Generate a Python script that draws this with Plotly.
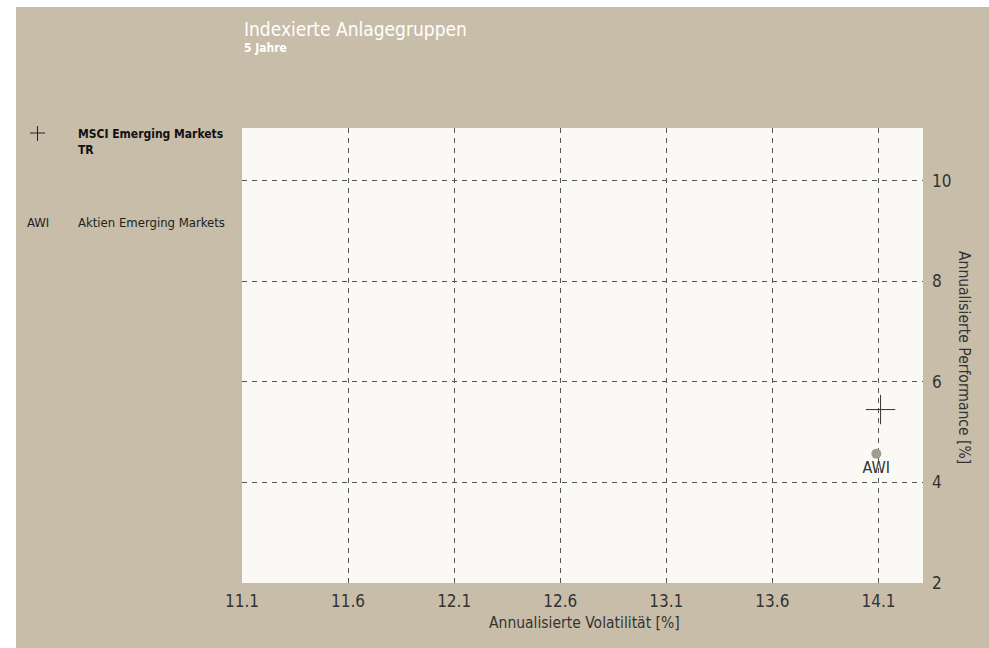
import plotly.graph_objects as go

# data
names = ['MSCI Emerging Markets TR', 'AWI']
volatility = [14.11, 14.09]
performance = [5.45, 4.57]
x_ticks = [11.1, 11.6, 12.1, 12.6, 13.1, 13.6, 14.1]
y_ticks = [2, 4, 6, 8, 10]

FONT = 'DejaVu Sans Condensed, Liberation Sans Narrow, sans-serif'
BEIGE = '#c8bda8'
PLOTBG = '#faf9f6'

W, H = 989, 648
L, R, T, B = 242, 66, 128, 65
PW, PH = W - L - R, H - T - B


# pixel -> paper helpers for things outside the plot area
def xp(px):
    return (px - L) / PW


def yp(py):
    return (H - B - py) / PH


fig = go.Figure()

# index (cross)
fig.add_trace(go.Scatter(
    x=[volatility[0]], y=[performance[0]], mode='markers',
    marker=dict(symbol='cross-thin', size=21, line=dict(width=1, color='#333333')),
    name=names[0], hoverinfo='x+y+name'
))
# AWI dot with label
fig.add_trace(go.Scatter(
    x=[volatility[1]], y=[performance[1]], mode='markers+text',
    marker=dict(size=10, color='#a39b8b'),
    text=[names[1]], textposition='bottom center',
    textfont=dict(family=FONT, size=16, color='#333333'),
    name=names[1], hoverinfo='x+y+name'
))

shapes = [
    # white strips on the left and top
    dict(type='rect', xref='paper', yref='paper', x0=xp(0), x1=xp(16),
         y0=yp(H), y1=yp(0), fillcolor='white', line_width=0, layer='below'),
    dict(type='rect', xref='paper', yref='paper', x0=xp(0), x1=xp(W),
         y0=yp(7), y1=yp(0), fillcolor='white', line_width=0, layer='below'),
    dict(type='rect', xref='paper', yref='paper', x0=0, x1=1, y0=0, y1=1,
         fillcolor=PLOTBG, line_width=0, layer='below'),
    # legend cross
    dict(type='line', xref='paper', yref='paper', x0=xp(30), x1=xp(45), y0=yp(133), y1=yp(133),
         line=dict(color='#222222', width=1)),
    dict(type='line', xref='paper', yref='paper', x0=xp(37.5), x1=xp(37.5), y0=yp(126), y1=yp(141),
         line=dict(color='#222222', width=1)),
]

annotations = [
    dict(text='Indexierte Anlagegruppen', x=xp(242), y=yp(29), xanchor='left', yanchor='middle',
         font=dict(family=FONT, size=19, color='white')),
    dict(text='<b>5 Jahre</b>', x=xp(242), y=yp(48), xanchor='left', yanchor='middle',
         font=dict(family=FONT, size=12, color='white')),
    dict(text='<b>MSCI Emerging Markets</b><br><b>TR</b>', x=xp(76), y=yp(125), xanchor='left',
         yanchor='top', align='left', font=dict(family=FONT, size=12, color='#111111')),
    dict(text='AWI', x=xp(25), y=yp(222), xanchor='left', yanchor='middle',
         font=dict(family=FONT, size=13, color='#222222')),
    dict(text='Aktien Emerging Markets', x=xp(76), y=yp(222), xanchor='left', yanchor='middle',
         font=dict(family=FONT, size=13, color='#222222')),
    dict(text='Annualisierte Volatilität [%]', x=xp(584), y=yp(623),
         xanchor='center', yanchor='middle', font=dict(family=FONT, size=15.5, color='#333333')),
    dict(text='Annualisierte Performance [%]', x=xp(964), y=yp(357), textangle=90,
         xanchor='center', yanchor='middle', font=dict(family=FONT, size=15.5, color='#333333')),
]
for a in annotations:
    a.update(xref='paper', yref='paper', showarrow=False)

fig.update_layout(
    width=W, height=H,
    margin=dict(l=L, r=R, t=T, b=B, pad=0),
    paper_bgcolor=BEIGE, plot_bgcolor=PLOTBG,
    font=dict(family=FONT, size=17, color='#333333'),
    showlegend=False,
    shapes=shapes, annotations=annotations,
    xaxis=dict(
        range=[11.1, 14.31], tickvals=x_ticks, ticktext=[str(v) for v in x_ticks],
        showgrid=True, gridcolor='#555555', griddash='5px,5px', gridwidth=1,
        zeroline=False, showline=False, ticks='', ticklabelstandoff=6,
    ),
    yaxis=dict(
        range=[2, 11.05], tickvals=y_ticks, side='right',
        showgrid=True, gridcolor='#555555', griddash='5px,5px', gridwidth=1,
        zeroline=False, showline=False, ticks='', ticklabelstandoff=8,
    ),
)

# drop the default page margin so the figure fills the window
fig.write_html('out.html', config={'displayModeBar': False},
               post_script="document.body.style.margin='0';")
